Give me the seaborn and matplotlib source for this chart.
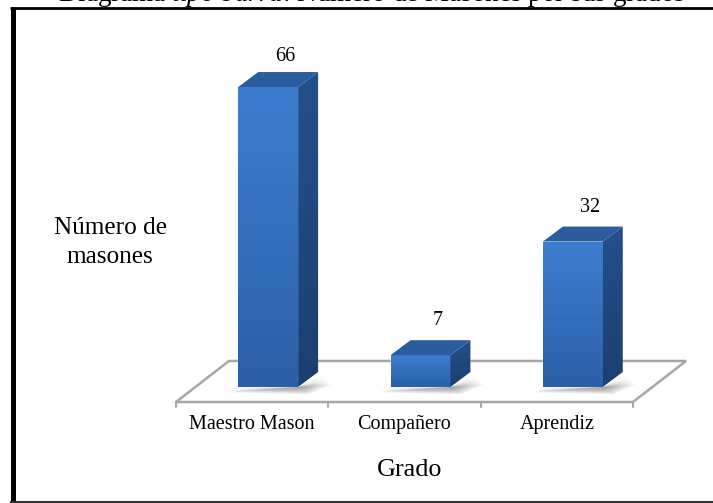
import matplotlib
matplotlib.use("Agg")
import matplotlib.pyplot as plt
import numpy as np
import pandas as pd
import seaborn as sns
from matplotlib.colors import LinearSegmentedColormap
from matplotlib.patches import Polygon

grados = ["Maestro Mason", "Compañero", "Aprendiz"]
masones = [66, 7, 32]
titulo = r"Diagrama $\mathit{tipo\ barra}$: Número de Masones por sus grados"

W, H = 713, 503
DX, DY = 20, 15  # fondo de las barras 3d, en pixeles
SHIFT = 16
GAP = [11, 15, 15]  # separacion de la etiqueta sobre cada barra

sns.set_theme(style="white")
plt.rcParams["font.family"] = ["Liberation Serif", "DejaVu Serif"]
plt.rcParams["text.color"] = "black"
plt.rcParams["mathtext.fontset"] = "custom"
plt.rcParams["mathtext.it"] = "Liberation Serif:italic"
plt.rcParams["mathtext.rm"] = "Liberation Serif"

fig = plt.figure(figsize=(W / 100, H / 100), dpi=100)
# eje: y=0 en la base de las barras (387 px), 4.545 px por masón
ax = fig.add_axes([176 / W, 1 - 387 / H, 457 / W, 360 / H])
df = pd.DataFrame({"grado": grados, "masones": masones})
sns.barplot(data=df, x="grado", y="masones", width=0.393, color="#2f6ab5", ax=ax, zorder=3)
ax.set_xlim(-0.5, 2.5)
ax.set_ylim(0, 360 / 4.545)
ax.patch.set_alpha(0)
sns.despine(ax=ax, left=True, bottom=True)
ax.set_xlabel("")
ax.set_ylabel("")
ax.set_yticks([])
ax.set_xticks([])

px_x = 152.33
px_y = 4.545
front = LinearSegmentedColormap.from_list("f", ["#2b60a8", "#3d7dd0"])
side = LinearSegmentedColormap.from_list("s", ["#1c3f70", "#24508a"])

# piso
fx = lambda p: -0.5 + (p - 176) / px_x
fy = lambda p: (387 - p) / px_y
floor = [(176, 402), (633, 402), (686, 361), (229, 361)]
ax.add_patch(Polygon([(fx(a), fy(b)) for a, b in floor], closed=True, fc="white", ec="#a6a6a6",
                     lw=1.8, clip_on=False, zorder=1))
for t in [176, 328.3, 481, 633]:
    ax.plot([fx(t), fx(t)], [fy(402), fy(407)], color="#a6a6a6", lw=1.5, clip_on=False, zorder=1)

for i, (bar, n, g) in enumerate(zip(ax.patches[:3], masones, grados)):
    bar.set_x(bar.get_x() + SHIFT / px_x)
    x0, w = bar.get_x(), bar.get_width()
    x1 = x0 + w
    dx, dy = DX / px_x, DY / px_y
    # sombra en el piso
    for k in range(8):
        off = (k + 1) * 1.3
        ax.add_patch(Polygon([(x0 - (off + 2) / px_x, -off * 0.5 / px_y), (x1 + off / px_x, -off * 0.7 / px_y),
                              (x1 + dx + (3 + off) / px_x, dy - (off + 2) / px_y), (x1, 0)],
                             closed=True, fc="#444444", ec="none", alpha=0.08, zorder=2, clip_on=False))
    im = ax.imshow(np.linspace(0, 1, 64).reshape(-1, 1), cmap=front, origin="lower", aspect="auto",
                   extent=(x0, x1, 0, n), zorder=4)
    im.set_clip_path(bar)
    sd = Polygon([(x1, 0), (x1 + dx, dy), (x1 + dx, n + dy), (x1, n)], closed=True, fc="none", ec="none",
                 zorder=4, transform=ax.transData)
    ax.add_patch(sd)
    im2 = ax.imshow(np.linspace(0, 1, 64).reshape(-1, 1), cmap=side, origin="lower", aspect="auto",
                    extent=(x1, x1 + dx, 0, n + dy), zorder=4)
    im2.set_clip_path(sd)
    ax.add_patch(Polygon([(x0, n), (x1, n), (x1 + dx, n + dy), (x0 + dx, n + dy)], closed=True,
                         fc="#2b5d9e", ec="none", zorder=5, clip_on=False))
    ax.text(x0 + w / 2 + 17 / px_x, n + dy + GAP[i] / px_y, str(n), ha="center", va="baseline", fontsize=14.5,
            clip_on=False)
    ax.text(i, fy(429), g, ha="center", va="baseline", fontsize=14.5, clip_on=False)
ax.set_xlim(-0.5, 2.5)
ax.set_ylim(0, 360 / 4.545)

fig.text(110 / W, 1 - 234 / H, "Número de", ha="center", va="baseline", fontsize=18.2)
fig.text(110 / W, 1 - 263 / H, "masones", ha="center", va="baseline", fontsize=18.2)
fig.text(410 / W, 1 - 476 / H, "Grado", ha="center", va="baseline", fontsize=18.8)

# titulo cortado por el borde superior
fig.text(686 / W, 1 - 1.2 / H, titulo, ha="right", va="baseline", fontsize=19.5)

# marco
fig.add_artist(plt.Line2D([12.5 / W, 12.5 / W], [1 - 7 / H, 1 - 502 / H], color="black", lw=3.6,
                          solid_capstyle="butt"))
fig.add_artist(plt.Line2D([10 / W, 1], [1 - 8 / H, 1 - 8 / H], color="black", lw=2, solid_capstyle="butt"))
fig.add_artist(plt.Line2D([10 / W, 1], [1 - 502 / H, 1 - 502 / H], color="#333333", lw=1.5, solid_capstyle="butt"))

fig.savefig("out.png", dpi=100)
